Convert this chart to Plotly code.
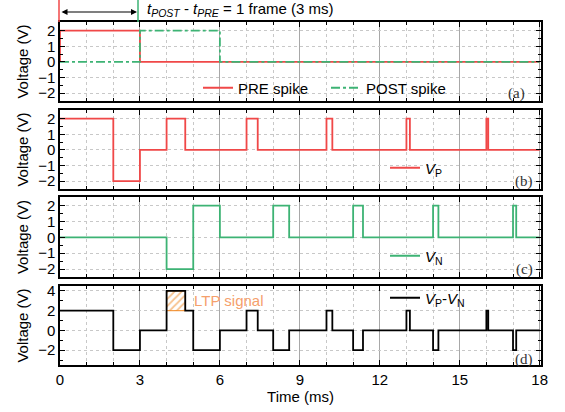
import plotly.graph_objects as go

# ---------------- data ----------------
t_pre = [0, 0, 3, 18]
v_pre = [0, 2, 0, 0]
t_post = [0, 3, 6, 18]
v_post = [0, 2, 0, 0]
t_vp = [0, 2, 3, 4, 4.7, 7, 7.42, 10, 10.22, 13, 13.13, 16, 16.07, 18]
v_vp = [2, -2, 0, 2, 0, 2, 0, 2, 0, 2, 0, 2, 0, 0]
t_vn = [0, 4, 5, 6, 8, 8.6, 11, 11.37, 14, 14.2, 17, 17.12, 18]
v_vn = [0, -2, 2, 0, 2, 0, 2, 0, 2, 0, 2, 0, 0]
t_diff = [0, 2, 3, 4, 4.7, 5, 6, 7, 7.42, 8, 8.6, 10, 10.22, 11, 11.37,
          13, 13.13, 14, 14.2, 16, 16.07, 17, 17.12, 18]
v_diff = [2, -2, 0, 4, 2, -2, 0, 2, 0, -2, 0, 2, 0, -2, 0,
          2, 0, -2, 0, 2, 0, -2, 0, 0]
ltp_t = [4, 4.7]
ltp_v = [2, 4]
x_ticks = [0, 3, 6, 9, 12, 15, 18]
y_ticks_abc = [-2, -1, 0, 1, 2]
y_ticks_d = [-2, 0, 2, 4]

RED = "#f04848"
GREEN = "#3db374"
ORANGE = "#f0861e"
FONT = "Liberation Sans, Arial, sans-serif"

fig = go.Figure()

# panel a
fig.add_trace(go.Scatter(x=t_pre, y=v_pre, mode="lines", line_shape="hv",
                         line=dict(color=RED, width=1.8), name="PRE spike",
                         xaxis="x", yaxis="y", legend="legend"))
fig.add_trace(go.Scatter(x=t_post, y=v_post, mode="lines", line_shape="hv",
                         line=dict(color=GREEN, width=1.8, dash="dashdot"),
                         name="POST spike", xaxis="x", yaxis="y", legend="legend"))
# panel b
fig.add_trace(go.Scatter(x=t_vp, y=v_vp, mode="lines", line_shape="hv",
                         line=dict(color=RED, width=1.8), name="<i>V</i><sub>P</sub>",
                         xaxis="x2", yaxis="y2", legend="legend2"))
# panel c
fig.add_trace(go.Scatter(x=t_vn, y=v_vn, mode="lines", line_shape="hv",
                         line=dict(color=GREEN, width=1.8), name="<i>V</i><sub>N</sub>",
                         xaxis="x3", yaxis="y3", legend="legend3"))
# panel d: LTP hatched area
fig.add_trace(go.Scatter(x=[ltp_t[0], ltp_t[1], ltp_t[1], ltp_t[0], ltp_t[0]],
                         y=[ltp_v[0], ltp_v[0], ltp_v[1], ltp_v[1], ltp_v[0]],
                         mode="lines", fill="toself", fillcolor="rgba(0,0,0,0)",
                         fillpattern=dict(shape="/", fgcolor=ORANGE, bgcolor="white",
                                          size=5, solidity=0.35),
                         line=dict(color=ORANGE, width=1), showlegend=False,
                         hoverinfo="skip", xaxis="x4", yaxis="y4"))
fig.add_trace(go.Scatter(x=t_diff, y=v_diff, mode="lines", line_shape="hv",
                         line=dict(color="black", width=1.8),
                         name="<i>V</i><sub>P</sub>-<i>V</i><sub>N</sub>",
                         xaxis="x4", yaxis="y4", legend="legend4"))

# ---------------- layout ----------------
H_TOT = 343.0
def dom(top, bot):
    return [(365 - bot) / H_TOT, (365 - top) / H_TOT]

doms = [dom(22, 101), dom(110, 189), dom(197, 277), dom(286, 365)]

xbase = dict(range=[0, 18.05], tickvals=x_ticks, ticks="inside", ticklen=5,
             tickwidth=1, tickcolor="black", automargin=False,
             showgrid=True, gridcolor="#a8a8a8", gridwidth=1,
             minor=dict(dtick=1, tick0=0, ticks="inside", ticklen=3, tickcolor="black",
                        showgrid=True, gridcolor="#c8c8c8", griddash="dot", gridwidth=1),
             showline=True, linecolor="black", linewidth=1.5, mirror="allticks",
             zeroline=False, tickfont=dict(size=15, color="black", family=FONT))

layout = dict(width=565, height=412, margin=dict(l=60, r=24, t=22, b=47),
              plot_bgcolor="white", paper_bgcolor="white",
              font=dict(family=FONT, color="black", size=15))

for i in range(4):
    sfx = "" if i == 0 else str(i + 1)
    xa = dict(xbase)
    xa["anchor"] = "y" + sfx
    xa["domain"] = [0, 1]
    if i < 3:
        xa["showticklabels"] = False
        xa["matches"] = "x4"
    else:
        xa["title"] = dict(text="Time (ms)", font=dict(size=15), standoff=2)
    layout["xaxis" + sfx] = xa

    if i < 3:
        ya = dict(range=[-2.5, 2.55], tickvals=y_ticks_abc,
                  minor=dict(dtick=0.5, tick0=0, ticks="inside", ticklen=3,
                             tickcolor="black", showgrid=False))
    else:
        ya = dict(range=[-3.5, 4.5], tickvals=y_ticks_d,
                  minor=dict(dtick=1, tick0=0, ticks="inside", ticklen=3,
                             tickcolor="black", showgrid=False))
    ya.update(anchor="x" + sfx, domain=doms[i], ticks="inside", ticklen=5,
              tickcolor="black", showgrid=True, gridcolor="#c8c8c8", griddash="dot",
              showline=True, linecolor="black", linewidth=1.5, mirror="allticks",
              zeroline=False, automargin=False,
              tickfont=dict(size=15, color="black", family=FONT),
              title=dict(text="Voltage (V)", font=dict(size=15), standoff=6))
    layout["yaxis" + sfx] = ya

def px_x(p):
    return (p - 60) / 481.0

def px_y(p):
    return (365 - p) / H_TOT

leg_common = dict(bgcolor="rgba(0,0,0,0)", borderwidth=0, xref="paper", yref="paper",
                  font=dict(size=15, family=FONT), itemwidth=30,
                  xanchor="left", yanchor="middle", tracegroupgap=0)
layout["legend"] = dict(leg_common, x=px_x(198), y=px_y(88), orientation="h",
                        entrywidth=83, entrywidthmode="pixels")
layout["legend2"] = dict(leg_common, x=px_x(385), y=px_y(168))
layout["legend3"] = dict(leg_common, x=px_x(385), y=px_y(256))
layout["legend4"] = dict(leg_common, x=px_x(385), y=px_y(298))

annotations = []
for lab, xr, yc in [("(a)", 527, 93), ("(b)", 535, 181), ("(c)", 535, 269), ("(d)", 535, 359)]:
    annotations.append(dict(text=lab, xref="paper", yref="paper", x=px_x(xr), y=px_y(yc),
                            xanchor="right", yanchor="middle", showarrow=False,
                            font=dict(family="Liberation Serif, Times New Roman, serif",
                                      size=15, color="#333")))
annotations.append(dict(text="LTP signal", xref="x4", yref="y4", x=4.95, y=3.0,
                        xanchor="left", yanchor="middle", showarrow=False,
                        font=dict(size=15, color="#f5a06c", family=FONT)))
annotations.append(dict(text="<i>t</i><sub><i>POST</i></sub> - <i>t</i><sub><i>PRE</i></sub> = 1 frame (3 ms)",
                        xref="paper", yref="paper", x=px_x(145), y=px_y(10),
                        xanchor="left", yanchor="middle", showarrow=False,
                        font=dict(size=15, family=FONT)))
annotations.append(dict(text="", xref="paper", yref="paper", x=px_x(137), y=px_y(12),
                        axref="pixel", ayref="pixel", ax=-77, ay=0, showarrow=True,
                        arrowhead=2, arrowside="end+start", arrowsize=1, arrowwidth=1.2,
                        arrowcolor="black"))
layout["annotations"] = annotations

layout["shapes"] = [
    dict(type="line", xref="paper", yref="paper", x0=px_x(59), x1=px_x(59),
         y0=px_y(22), y1=px_y(0), line=dict(color=RED, width=1.5)),
    dict(type="line", xref="paper", yref="paper", x0=px_x(138), x1=px_x(138),
         y0=px_y(22), y1=px_y(0), line=dict(color=GREEN, width=1.5)),
]

fig.update_layout(**layout)
# remove the default page margin so the 565x412 figure fills the window exactly
fig.write_html("out.html", config={"displayModeBar": False},
               post_script="document.body.style.margin='0';document.body.style.overflow='hidden';")
